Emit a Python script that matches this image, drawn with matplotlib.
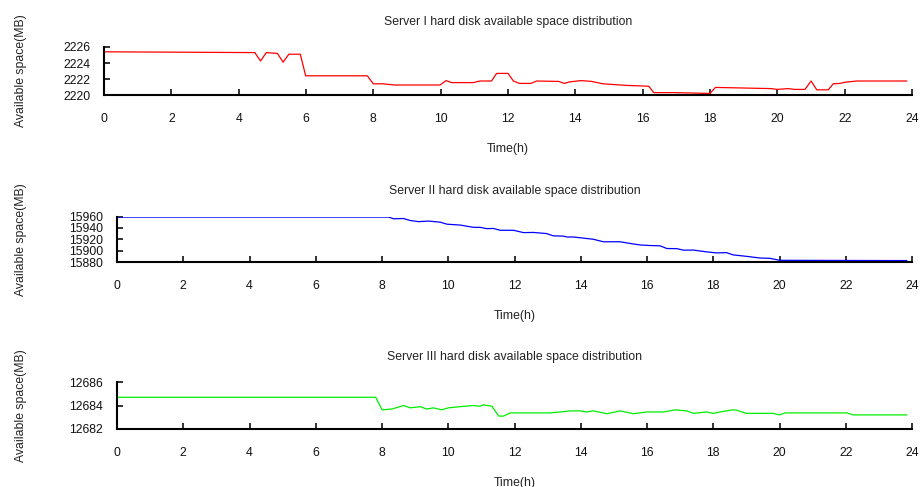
import matplotlib
matplotlib.use("Agg")
import matplotlib.pyplot as plt
from matplotlib.ticker import ScalarFormatter
from matplotlib.transforms import blended_transform_factory

plt.rcParams['font.family'] = ['Liberation Sans', 'DejaVu Sans']

# Server I (red), vertices
t1 = [0, 4.48, 4.65, 4.82, 5.15, 5.32, 5.49, 5.83, 5.99, 7.82, 8.0, 8.28, 8.64,
      9.98, 10.16, 10.33, 10.97, 11.17, 11.51, 11.66, 12.0, 12.16, 12.34, 12.68,
      12.85, 13.5, 13.67, 13.84, 14.17, 14.48, 14.82, 15.18, 15.52, 16.18, 16.33,
      16.9, 18.0, 18.16, 19.83, 19.98, 20.32, 20.52, 20.82, 21.0, 21.17, 21.51,
      21.66, 21.86, 22.01, 22.36, 23.84]
s1 = [2225.4, 2225.3, 2224.25, 2225.3, 2225.2, 2224.1, 2225.1, 2225.1, 2222.4,
      2222.4, 2221.4, 2221.4, 2221.25, 2221.25, 2221.8, 2221.55, 2221.55, 2221.75,
      2221.75, 2222.7, 2222.7, 2221.75, 2221.45, 2221.45, 2221.75, 2221.7, 2221.45,
      2221.65, 2221.8, 2221.7, 2221.4, 2221.3, 2221.2, 2221.1, 2220.3, 2220.3,
      2220.2, 2220.95, 2220.8, 2220.7, 2220.8, 2220.7, 2220.7, 2221.75, 2220.65,
      2220.65, 2221.4, 2221.45, 2221.6, 2221.75, 2221.75]

# Server II (blue)
t2 = [0, 8.2, 8.35, 8.65, 8.85, 9.1, 9.4, 9.76, 9.96, 10.36, 10.76, 10.96, 11.16,
      11.36, 11.57, 11.97, 12.27, 12.57, 12.97, 13.17, 13.48, 13.58, 13.78, 14.38,
      14.68, 15.19, 15.49, 15.79, 16.09, 16.39, 16.6, 16.9, 17.1, 17.4, 17.8, 18.1,
      18.4, 18.6, 19.0, 19.41, 19.71, 20.0, 23.84]
s2 = [15959, 15959, 15956, 15956.5, 15953, 15951, 15952, 15950, 15946.5, 15945,
      15941, 15941, 15938.7, 15939, 15935.8, 15935.8, 15931.7, 15932, 15930, 15926,
      15925.5, 15924, 15924, 15920, 15915.6, 15915.6, 15912.6, 15910, 15909, 15908.5,
      15903.7, 15903.5, 15900.8, 15901, 15897.8, 15896, 15896.5, 15892.5, 15890,
      15887, 15886.5, 15883, 15882.5]

# Server III (green)
t3 = [0, 7.81, 8.0, 8.3, 8.65, 8.85, 9.15, 9.35, 9.55, 9.8, 10.0, 10.36, 10.76,
      10.96, 11.06, 11.32, 11.52, 11.67, 11.87, 13.07, 13.38, 13.68, 13.98, 14.18,
      14.38, 14.79, 15.19, 15.59, 15.99, 16.49, 16.85, 17.2, 17.4, 17.8, 18.0, 18.3,
      18.6, 18.7, 19.0, 19.81, 20.0, 20.17, 22.03, 22.23, 23.84]
s3 = [12684.7, 12684.7, 12683.63, 12683.7, 12684.0, 12683.8, 12683.9, 12683.7,
      12683.8, 12683.63, 12683.8, 12683.9, 12684.0, 12683.94, 12684.05, 12683.94,
      12683.1, 12683.1, 12683.37, 12683.37, 12683.45, 12683.54, 12683.54, 12683.45,
      12683.54, 12683.3, 12683.54, 12683.3, 12683.45, 12683.45, 12683.63, 12683.54,
      12683.33, 12683.45, 12683.33, 12683.5, 12683.63, 12683.6, 12683.33, 12683.33,
      12683.2, 12683.37, 12683.37, 12683.2, 12683.2]

titles = ['Server I hard disk available space distribution',
          'Server II hard disk available space distribution',
          'Server III hard disk available space distribution']
colors = ['#ff0000', '#0000ff', '#00ee00']
ylims = [(2220, 2226), (15880, 15960), (12682, 12686)]
ysteps = [2, 20, 2]
xticks = list(range(0, 25, 2))

fig = plt.figure(figsize=(9.22, 4.87), dpi=100)
# axes boxes (left, bottom, width, height) in figure fractions
boxes = [(0.1128, 0.8049, 0.8764, 0.0986),
         (0.1269, 0.4620, 0.8623, 0.0934),
         (0.1269, 0.1191, 0.8623, 0.0965)]

for i, (t, s) in enumerate([(t1, s1), (t2, s2), (t3, s3)]):
    ax = fig.add_axes(boxes[i])
    ax.plot(t, s, color=colors[i], lw=0.9)
    ax.set_xlim(0, 24)
    ax.set_ylim(*ylims[i])
    ax.set_xticks(xticks)
    lo, hi = ylims[i]
    ax.set_yticks(list(range(lo, hi + 1, ysteps[i])))
    ax.yaxis.set_major_formatter(ScalarFormatter(useOffset=False))
    for side in ['top', 'right']:
        ax.spines[side].set_visible(False)
    for side in ['left', 'bottom']:
        ax.spines[side].set_linewidth(1.5)
    ax.tick_params(direction='in', length=4, width=1.2, labelsize=8.8,
                   colors='#111111')
    ax.tick_params(axis='y', pad=10)
    ax.tick_params(axis='x', pad=13)
    ax.set_title(titles[i], fontsize=8.8, pad=16, color='#222222')
    ax.set_xlabel('Time(h)', fontsize=8.8, labelpad=13, color='#222222')
    ax.set_ylabel('Available space(MB)', fontsize=8.8, color='#222222')
    trans = blended_transform_factory(fig.transFigure, ax.transAxes)
    ax.yaxis.set_label_coords(0.029, 0.5, transform=trans)

fig.savefig('out.png', dpi=100)
